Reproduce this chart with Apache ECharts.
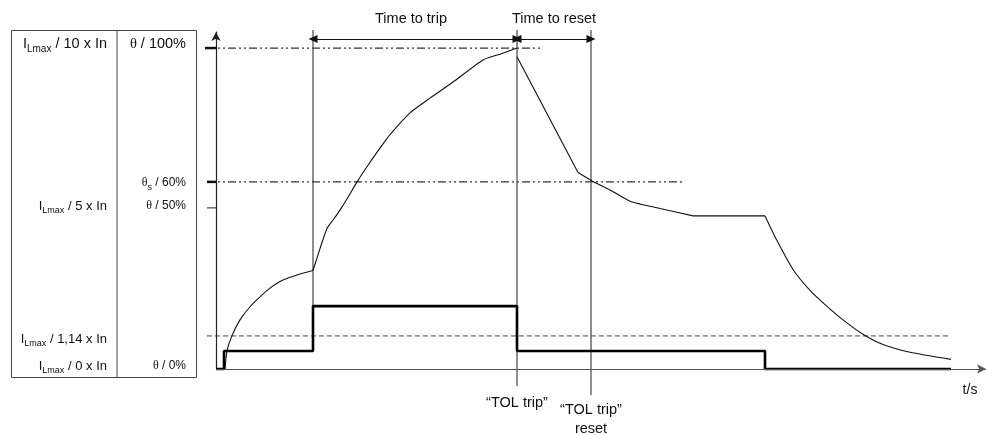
<!DOCTYPE html>
<html>
<head>
<meta charset="utf-8">
<script src="https://cdn.jsdelivr.net/npm/echarts@6/dist/echarts.min.js"></script>
<style>
html,body{margin:0;padding:0;background:#fff;}
#main{width:988px;height:435px;}
</style>
</head>
<body>
<div id="main"></div>
<script>
// time axis is just a relative scale, y is thermal state in %
const tCurrent = [0, 8, 8, 97, 97, 301, 301, 549, 549, 735];
const iCurrent = [0, 0, 5.6, 5.6, 19.6, 19.6, 5.6, 5.6, 0, 0];

// thermal image, heating part up to the trip
const tHeat = [9, 11, 16, 24, 34, 44, 54, 67, 84, 97, 104, 111, 118, 124, 132, 141, 152, 164, 174, 194, 214, 237, 267, 284, 301];
const thetaHeat = [0, 5.7, 10.4, 15.3, 19.4, 22.5, 25.2, 27.7, 29.6, 30.7, 37.5, 43.8, 46.8, 49.5, 53.5, 58.3, 63.5, 68.8, 73.0, 79.8, 84.4, 89.4, 96.3, 98.1, 100];
// cooling part after the trip
const tCool = [301, 362, 376, 394, 414, 444, 477, 549, 561, 577, 594, 611, 627, 647, 667, 694, 735];
const thetaCool = [97.3, 61.2, 58.6, 55.8, 52.3, 50.0, 47.7, 47.7, 40.0, 31.0, 24.5, 19.5, 15.3, 10.8, 7.6, 5.2, 3.0];

// reference levels
const levelTrip = 100;
const levelReset = 58.3;
const levelHalf = 50.2;
const levelPickup = 10.3;

// event times
const tStart = 97;
const tTrip = 301;
const tReset = 375;
const tEnd = 770;

const lineTop = 105.6;
const arrowY = 102.8;

function pairs(xs, ys){
    let out = [];
    for(let i = 0; i < xs.length; i++){
        out.push([xs[i], ys[i]]);
    }
    return out;
}

const dashDot = [8, 3, 2, 3, 2, 3];
const font = 'Liberation Sans, Arial, sans-serif';
const serif = 'Liberation Serif, Times New Roman, serif';

// table texts with subscript
function tableText(x, y, main, sub, rest, size, greek){
    let subSize = Math.round(size * 0.72);
    return {
        type: 'text',
        z: 10,
        style: {
            x: x, y: y, align: 'right', verticalAlign: 'middle',
            text: '{m|' + main + '}' + (sub ? '{s|' + sub + '}' : '') + '{r|' + rest + '}',
            rich: {
                m: {fontSize: size, fontFamily: greek ? serif : font, fill: '#111', lineHeight: size + 6},
                s: {fontSize: subSize, fontFamily: font, fill: '#111', verticalAlign: 'bottom', lineHeight: size + 6, padding: [Math.round(size * 0.5), 0, 0, 0]},
                r: {fontSize: size, fontFamily: font, fill: '#111', lineHeight: size + 6}
            }
        }
    };
}

function plainText(x, y, txt, size){
    return {type: 'text', z: 10, style: {x: x, y: y, text: txt, fontSize: size || 14.5, fontFamily: font, fill: '#111', align: 'center', verticalAlign: 'middle'}};
}

// simple helper for the many plain polyline series
function seg(data, color, width, type, smooth){
    return {
        type: 'line', clip: false, symbol: 'none', silent: true,
        smooth: smooth || false,
        data: data,
        lineStyle: {color: color, width: width, type: type || 'solid'}
    };
}

var heat = pairs(tHeat, thetaHeat);
var cool = pairs(tCool, thetaCool);

var myChart = echarts.init(document.getElementById('main'));

var option = {
    animation: false,
    backgroundColor: '#fff',
    grid: {left: 206, right: 2, top: 32, bottom: 66},
    xAxis: {
        type: 'value',
        min: -10,
        max: tEnd,
        axisLine: {show: false},
        axisTick: {show: false},
        axisLabel: {show: false},
        splitLine: {show: false}
    },
    yAxis: {
        type: 'value',
        min: 0,
        max: 105,
        axisLine: {show: true, onZero: true, symbol: ['none', 'arrow'], symbolSize: [7, 9], lineStyle: {color: '#222', width: 1.2}},
        axisTick: {show: false},
        axisLabel: {show: false},
        splitLine: {show: false}
    },
    series: [
        seg(pairs([-9, 324], [levelTrip, levelTrip]), '#333', 1.2, dashDot),
        seg(pairs([-9, 467], [levelReset, levelReset]), '#333', 1.2, dashDot),
        // pick-up level 1,14 x In
        seg(pairs([-9, 732], [levelPickup, levelPickup]), '#444', 1, [5, 3]),
        // bold ticks on the y axis
        seg(pairs([-11, 1], [levelTrip, levelTrip]), '#111', 2.5),
        seg(pairs([-9, 0], [levelReset, levelReset]), '#111', 2.5),
        seg(pairs([-9, 0], [levelHalf, levelHalf]), '#222', 1),
        // vertical event lines
        seg(pairs([tStart, tStart], [lineTop, 5.6]), '#444', 1.2),
        seg(pairs([tTrip, tTrip], [lineTop, -5.3]), '#444', 1.2),
        {
            type: 'line', clip: false, symbol: 'none', silent: true,
            data: pairs([tReset, tReset], [lineTop, -8.1]),
            lineStyle: {color: '#444', width: 1.2},
            markLine: {
                silent: true,
                symbol: ['triangle', 'triangle'],
                symbolSize: [8, 9],
                label: {show: false},
                lineStyle: {color: '#111', width: 1, type: 'solid'},
                data: [
                    [{coord: [tStart, arrowY]}, {coord: [tTrip, arrowY]}],
                    [{coord: [tTrip, arrowY]}, {coord: [tReset, arrowY]}]
                ]
            }
        },
        {
            // x axis with arrow
            type: 'line', clip: false, symbol: 'none', silent: true,
            data: [],
            markLine: {
                silent: true,
                symbol: ['none', 'arrow'],
                symbolSize: [7, 9],
                label: {show: false},
                lineStyle: {color: '#555', width: 1, type: 'solid'},
                data: [[{coord: [0, 0]}, {coord: [tEnd, 0]}]]
            }
        },
        // thermal image
        seg(heat.slice(0, 10), '#111', 1.1, 'solid', 0.2),
        seg(heat.slice(9), '#111', 1.1, 'solid', 0.2),
        seg(cool.slice(0, 2), '#111', 1.1),
        seg(cool.slice(1, 7), '#111', 1.1, 'solid', 0.2),
        seg(cool.slice(6, 8), '#111', 1.1),
        seg(cool.slice(7), '#111', 1.1, 'solid', 0.2),
        // motor current
        seg(pairs(tCurrent, iCurrent), '#000', 2.6)
    ],
    graphic: [
        {type: 'rect', shape: {x: 11.5, y: 30.5, width: 185, height: 347}, style: {fill: 'none', stroke: '#444', lineWidth: 1}},
        {type: 'line', shape: {x1: 117, y1: 30.5, x2: 117, y2: 377.5}, style: {stroke: '#444', lineWidth: 1}},
        tableText(107, 44, 'I', 'Lmax', ' / 10 x In', 14.5),
        tableText(107, 206, 'I', 'Lmax', ' / 5 x In', 13),
        tableText(107, 339, 'I', 'Lmax', ' / 1,14 x In', 13),
        tableText(107, 366, 'I', 'Lmax', ' / 0 x In', 13),
        tableText(186, 44, '\u03b8', '', ' / 100%', 14.5, true),
        tableText(186, 183, '\u03b8', 's', ' / 60%', 12, true),
        tableText(186, 206, '\u03b8', '', ' / 50%', 12, true),
        tableText(186, 366, '\u03b8', '', ' / 0%', 12, true),
        plainText(411, 19, 'Time to trip'),
        plainText(554, 19, 'Time to reset'),
        plainText(517, 403, '\u201cTOL trip\u201d'),
        plainText(591, 410, '\u201cTOL trip\u201d'),
        plainText(591, 429, 'reset'),
        plainText(970, 390, 't/s', 14)
    ]
};

myChart.setOption(option);
</script>
</body>
</html>
